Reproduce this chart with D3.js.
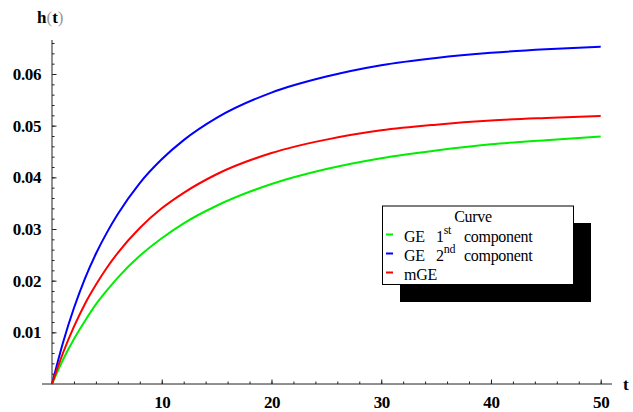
<!DOCTYPE html>
<html>
<head>
<meta charset="UTF-8">
<title>h(t) curves</title>
<script src="https://cdn.jsdelivr.net/npm/d3@7"></script>
<style>
  body { margin: 0; background: #fff; }
</style>
</head>
<body>
<div id="output"></div>
<script>

// values
var tValues   = [0, 1, 2, 3, 4, 5, 6, 8, 10, 12, 15, 20, 25, 30, 35, 40, 45, 50];
var ge1Values = [0, 0.0047, 0.0087, 0.0122, 0.0154, 0.0181, 0.0206, 0.0248, 0.0282, 0.0311, 0.0345, 0.0387, 0.0416, 0.0437, 0.0452, 0.0464, 0.0472, 0.0479];
var ge2Values = [0, 0.0080, 0.0147, 0.0204, 0.0252, 0.0293, 0.0329, 0.0389, 0.0435, 0.0472, 0.0515, 0.0564, 0.0595, 0.0617, 0.0631, 0.0641, 0.0648, 0.0653];
var mgeValues = [0, 0.0060, 0.0111, 0.0155, 0.0192, 0.0225, 0.0254, 0.0302, 0.0340, 0.0370, 0.0406, 0.0447, 0.0473, 0.0491, 0.0502, 0.0510, 0.0515, 0.0519];

var xTicks = [10, 20, 30, 40, 50];
var yTicks = [0.01, 0.02, 0.03, 0.04, 0.05, 0.06];
var legendTitle = "Curve";

var w = 633;
var h = 412;

var svg = d3.select("#output")
    .append("svg")
    .attr("width", w)
    .attr("height", h)
    .attr("font-family", "Liberation Serif");

var x = d3.scaleLinear().domain([0, 50]).range([52, 600.7]);
var y = d3.scaleLinear().domain([0, 0.06]).range([384, 74]);

function serifText(sel, size, weight) {
    return sel.attr("font-family", "Liberation Serif")
        .style("font-family", "'Liberation Serif'")
        .style("font-size", size + "px")
        .style("font-weight", weight || "normal");
}

// axis lines
svg.append("line")
    .attr("x1", 42).attr("x2", 612)
    .attr("y1", y(0)).attr("y2", y(0))
    .attr("stroke", "#222").attr("stroke-width", 1);
svg.append("line")
    .attr("x1", x(0)).attr("x2", x(0))
    .attr("y1", y(0)).attr("y2", 40)
    .attr("stroke", "#222").attr("stroke-width", 1);

// minor ticks
var xMinor = d3.range(2, 51, 2);
var yMinor = d3.range(0.002, 0.0661, 0.002);

svg.append("g")
    .attr("transform", "translate(0," + y(0) + ")")
    .call(d3.axisBottom(x).tickValues(xMinor).tickSize(-2.5).tickSizeOuter(0).tickFormat(""))
    .call(function (g) { g.select(".domain").remove(); g.selectAll("text").remove(); });

svg.append("g")
    .attr("transform", "translate(" + x(0) + ",0)")
    .call(d3.axisLeft(y).tickValues(yMinor).tickSize(-2.5).tickSizeOuter(0).tickFormat(""))
    .call(function (g) { g.select(".domain").remove(); g.selectAll("text").remove(); });

// major ticks + labels
var gx = svg.append("g")
    .attr("transform", "translate(0," + y(0) + ")")
    .call(d3.axisBottom(x).tickValues(xTicks).tickSize(-4.5).tickSizeOuter(0).tickPadding(12).tickFormat(d3.format("d")));
gx.select(".domain").remove();

var gy = svg.append("g")
    .attr("transform", "translate(" + x(0) + ",0)")
    .call(d3.axisLeft(y).tickValues(yTicks).tickSize(-4.5).tickSizeOuter(0).tickPadding(11).tickFormat(d3.format(".2f")));
gy.select(".domain").remove();

gx.attr("font-family", "Liberation Serif");
gy.attr("font-family", "Liberation Serif");
svg.selectAll(".tick line").attr("stroke", "#222");
serifText(svg.selectAll(".tick text"), 17, "bold")
    .attr("fill", "#000")
    .style("letter-spacing", "-0.4px");

// axis titles
var ht = serifText(svg.append("text"), 17, "bold")
    .attr("x", 37).attr("y", 23);
ht.append("tspan").text("h");
ht.append("tspan").attr("fill", "#999").style("font-weight", "normal").text("(");
ht.append("tspan").text("t");
ht.append("tspan").attr("fill", "#999").style("font-weight", "normal").text(")");

serifText(svg.append("text"), 17, "bold")
    .attr("x", 623).attr("y", 390)
    .text("t");

// curves
var series = [
    { values: ge1Values, color: "#00ee00" },
    { values: ge2Values, color: "#0000ff" },
    { values: mgeValues, color: "#ff0000" }
];

var line = d3.line()
    .x(function (d, i) { return x(tValues[i]); })
    .y(function (d) { return y(d); })
    .curve(d3.curveMonotoneX);

svg.selectAll(".curve")
    .data(series)
    .enter()
    .append("path")
    .attr("class", "curve")
    .attr("d", function (d) { return line(d.values); })
    .attr("fill", "none")
    .attr("stroke", function (d) { return d.color; })
    .attr("stroke-width", 2);

// legend with shadow
var lg = svg.append("g");
lg.append("rect")
    .attr("x", 400).attr("y", 223)
    .attr("width", 191).attr("height", 79)
    .attr("fill", "#000");
lg.append("rect")
    .attr("x", 382.5).attr("y", 206)
    .attr("width", 191).attr("height", 78.5)
    .attr("fill", "#fff")
    .attr("stroke", "#000")
    .attr("stroke-width", 1);

serifText(lg.append("text"), 16)
    .attr("x", 473).attr("y", 221.5)
    .attr("text-anchor", "middle")
    .style("letter-spacing", "-0.3px")
    .text(legendTitle);

var rows = [
    { color: "#00ee00", num: "1", sup: "st", rest: "component" },
    { color: "#0000ff", num: "2", sup: "nd", rest: "component" },
    { color: "#ff0000", num: "", sup: "", rest: "" }
];

rows.forEach(function (r, i) {
    var yy = 234.5 + i * 19;
    lg.append("line")
        .attr("x1", 386).attr("x2", 393)
        .attr("y1", yy).attr("y2", yy)
        .attr("stroke", r.color).attr("stroke-width", 2);
    var t = serifText(lg.append("text"), 16)
        .attr("x", 404).attr("y", yy + 7)
        .style("letter-spacing", "-0.3px");
    if (i === 2) {
        t.text("mGE");
    } else {
        t.append("tspan").text("GE");
        t.append("tspan").attr("x", 436).text(r.num);
        t.append("tspan").attr("dy", -8).style("font-size", "12px").text(r.sup);
        t.append("tspan").attr("x", 464).attr("dy", 8).text(r.rest);
    }
});

</script>
</body>
</html>
